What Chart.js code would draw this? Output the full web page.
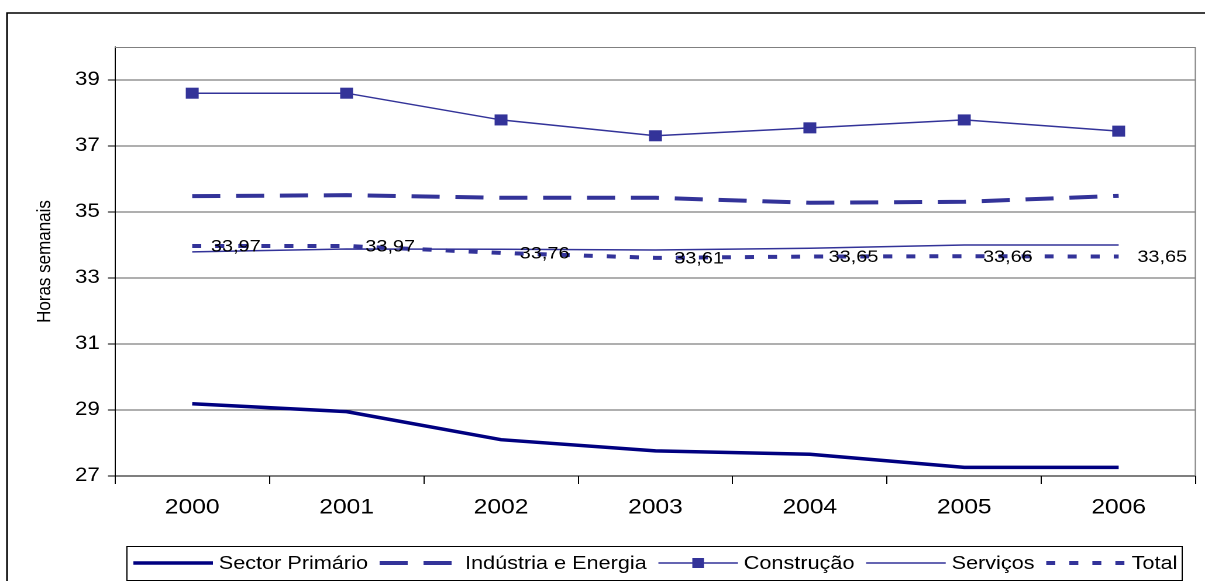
<!DOCTYPE html>
<html><head><meta charset="utf-8">
<script src="https://cdn.jsdelivr.net/npm/chart.js@4.4.1/dist/chart.umd.min.js"></script>
<style>
html,body{margin:0;padding:0;background:#fff;overflow:hidden}
#wrap{position:absolute;left:0;top:0;width:1030px;height:581px;transform:scaleX(1.16990);transform-origin:0 0}
</style></head><body>
<div id="wrap"><canvas id="c"></canvas></div>
<script>
const years = ['2000', '2001', '2002', '2003', '2004', '2005', '2006'];
const sectorPrimario = [29.19, 28.95, 28.10, 27.76, 27.66, 27.26, 27.26];
const industriaEnergia = [35.48, 35.51, 35.43, 35.43, 35.28, 35.31, 35.49];
const construcao = [38.60, 38.60, 37.79, 37.31, 37.55, 37.79, 37.45];
const servicos = [33.79, 33.88, 33.87, 33.85, 33.90, 34.00, 34.00];
const total = [33.97, 33.97, 33.76, 33.61, 33.65, 33.66, 33.65];
const yTicks = [27, 29, 31, 33, 35, 37, 39];
const seriesNames = ['Sector Primário', 'Indústria e Energia', 'Construção', 'Serviços', 'Total'];

const FAM = "Arial, 'Liberation Sans', sans-serif";

const extras = {
  id: 'extras',
  beforeDraw(chart) {
    const ctx = chart.ctx;
    ctx.save(); ctx.fillStyle = '#fff'; ctx.fillRect(0, 0, chart.width, chart.height); ctx.restore();
  },
  afterDatasetsDraw(chart) {
    const ctx = chart.ctx;
    const meta = chart.getDatasetMeta(4);
    ctx.save();
    ctx.font = '17px ' + FAM;
    ctx.fillStyle = '#000';
    ctx.textBaseline = 'middle';
    ctx.textAlign = 'left';
    meta.data.forEach((pt, i) => {
      ctx.fillText(total[i].toFixed(2).replace('.', ','), pt.x + 16, pt.y + 1);
    });
    ctx.restore();
  },
  afterDraw(chart) {
    const ctx = chart.ctx, a = chart.chartArea;
    ctx.save();
    // plot area border (top/right)
    ctx.strokeStyle = '#808080'; ctx.lineWidth = 1;
    ctx.beginPath();
    ctx.moveTo(a.left, a.top + 0.5); ctx.lineTo(a.right - 0.5, a.top + 0.5); ctx.lineTo(a.right - 0.5, a.bottom);
    ctx.stroke();
    // outer chart border
    ctx.strokeStyle = '#000'; ctx.lineWidth = 1.5;
    ctx.beginPath();
    ctx.moveTo(6, 600); ctx.lineTo(6, 13); ctx.lineTo(1040, 13);
    ctx.stroke();
    // legend
    const lx0 = 108.5, ly0 = 546.5, lx1 = 1010.5, ly1 = 580.5;
    ctx.lineWidth = 1; ctx.strokeStyle = '#000';
    ctx.strokeRect(lx0, ly0, lx1 - lx0, ly1 - ly0);
    ctx.font = '18.5px ' + FAM; ctx.textBaseline = 'middle'; ctx.textAlign = 'left';
    let x = 114; const y = 563; const L = 68;
    chart.data.datasets.forEach(ds => {
      ctx.save();
      ctx.strokeStyle = ds.borderColor; ctx.lineWidth = ds.borderWidth;
      ctx.setLineDash(ds.borderDash || []);
      ctx.beginPath(); ctx.moveTo(x, y); ctx.lineTo(x + L, y); ctx.stroke();
      ctx.restore();
      if (ds.pointRadius > 0) {
        ctx.fillStyle = ds.backgroundColor; const s = 10;
        ctx.fillRect(x + L / 2 - s / 2, y - s / 2, s, s);
      }
      x += L + 5;
      ctx.fillStyle = '#000'; ctx.fillText(ds.label, x, y + 1);
      x += ctx.measureText(ds.label).width + 10;
    });
    ctx.restore();
  }
};

new Chart(document.getElementById('c'), {
  type: 'line',
  data: {
    labels: years,
    datasets: [
      { label: seriesNames[0], data: sectorPrimario, borderColor: '#000080', backgroundColor: '#000080', borderWidth: 3.5, pointRadius: 0, tension: 0 },
      { label: seriesNames[1], data: industriaEnergia, borderColor: '#333399', backgroundColor: '#333399', borderWidth: 4, borderDash: [24, 13.5], pointRadius: 0 },
      { label: seriesNames[2], data: construcao, borderColor: '#333399', backgroundColor: '#333399', borderWidth: 1.5, pointStyle: 'rect', pointRadius: 7.8, pointBorderWidth: 0, pointHoverRadius: 7.8 },
      { label: seriesNames[3], data: servicos, borderColor: '#333399', backgroundColor: '#333399', borderWidth: 1.5, pointRadius: 0 },
      { label: seriesNames[4], data: total, borderColor: '#333399', backgroundColor: '#333399', borderWidth: 4, borderDash: [7.7, 12], pointRadius: 0 }
    ]
  },
  options: {
    responsive: true,
    maintainAspectRatio: false,
    devicePixelRatio: 2,
    animation: false,
    layout: { padding: { left: 0, right: 5.2, top: 47, bottom: 0 } },
    plugins: { legend: { display: false }, tooltip: { enabled: false }, title: { display: false } },
    scales: {
      x: {
        offset: true,
        grid: { offset: true, drawOnChartArea: false, tickLength: 8, tickColor: '#000', color: '#000' },
        border: { color: '#000', width: 1 },
        ticks: { font: { size: 21, family: FAM }, color: '#000', padding: 11, maxRotation: 0, autoSkip: false },
        afterFit: s => { s.height = 105; }
      },
      y: {
        min: 27, max: 40,
        afterBuildTicks: s => { s.ticks = yTicks.map(v => ({ value: v })); },
        afterFit: s => { s.width = 98.3; },
        grid: { color: '#606060', tickColor: '#000', tickLength: 6 },
        border: { color: '#000', width: 1 },
        ticks: { font: { size: 19, family: FAM }, color: '#000', padding: 7 },
        title: { display: true, text: 'Horas semanais', font: { size: 17, family: FAM }, color: '#000', padding: { top: 28, bottom: 0 } }
      }
    }
  },
  plugins: [extras]
});
</script>
</body></html>
